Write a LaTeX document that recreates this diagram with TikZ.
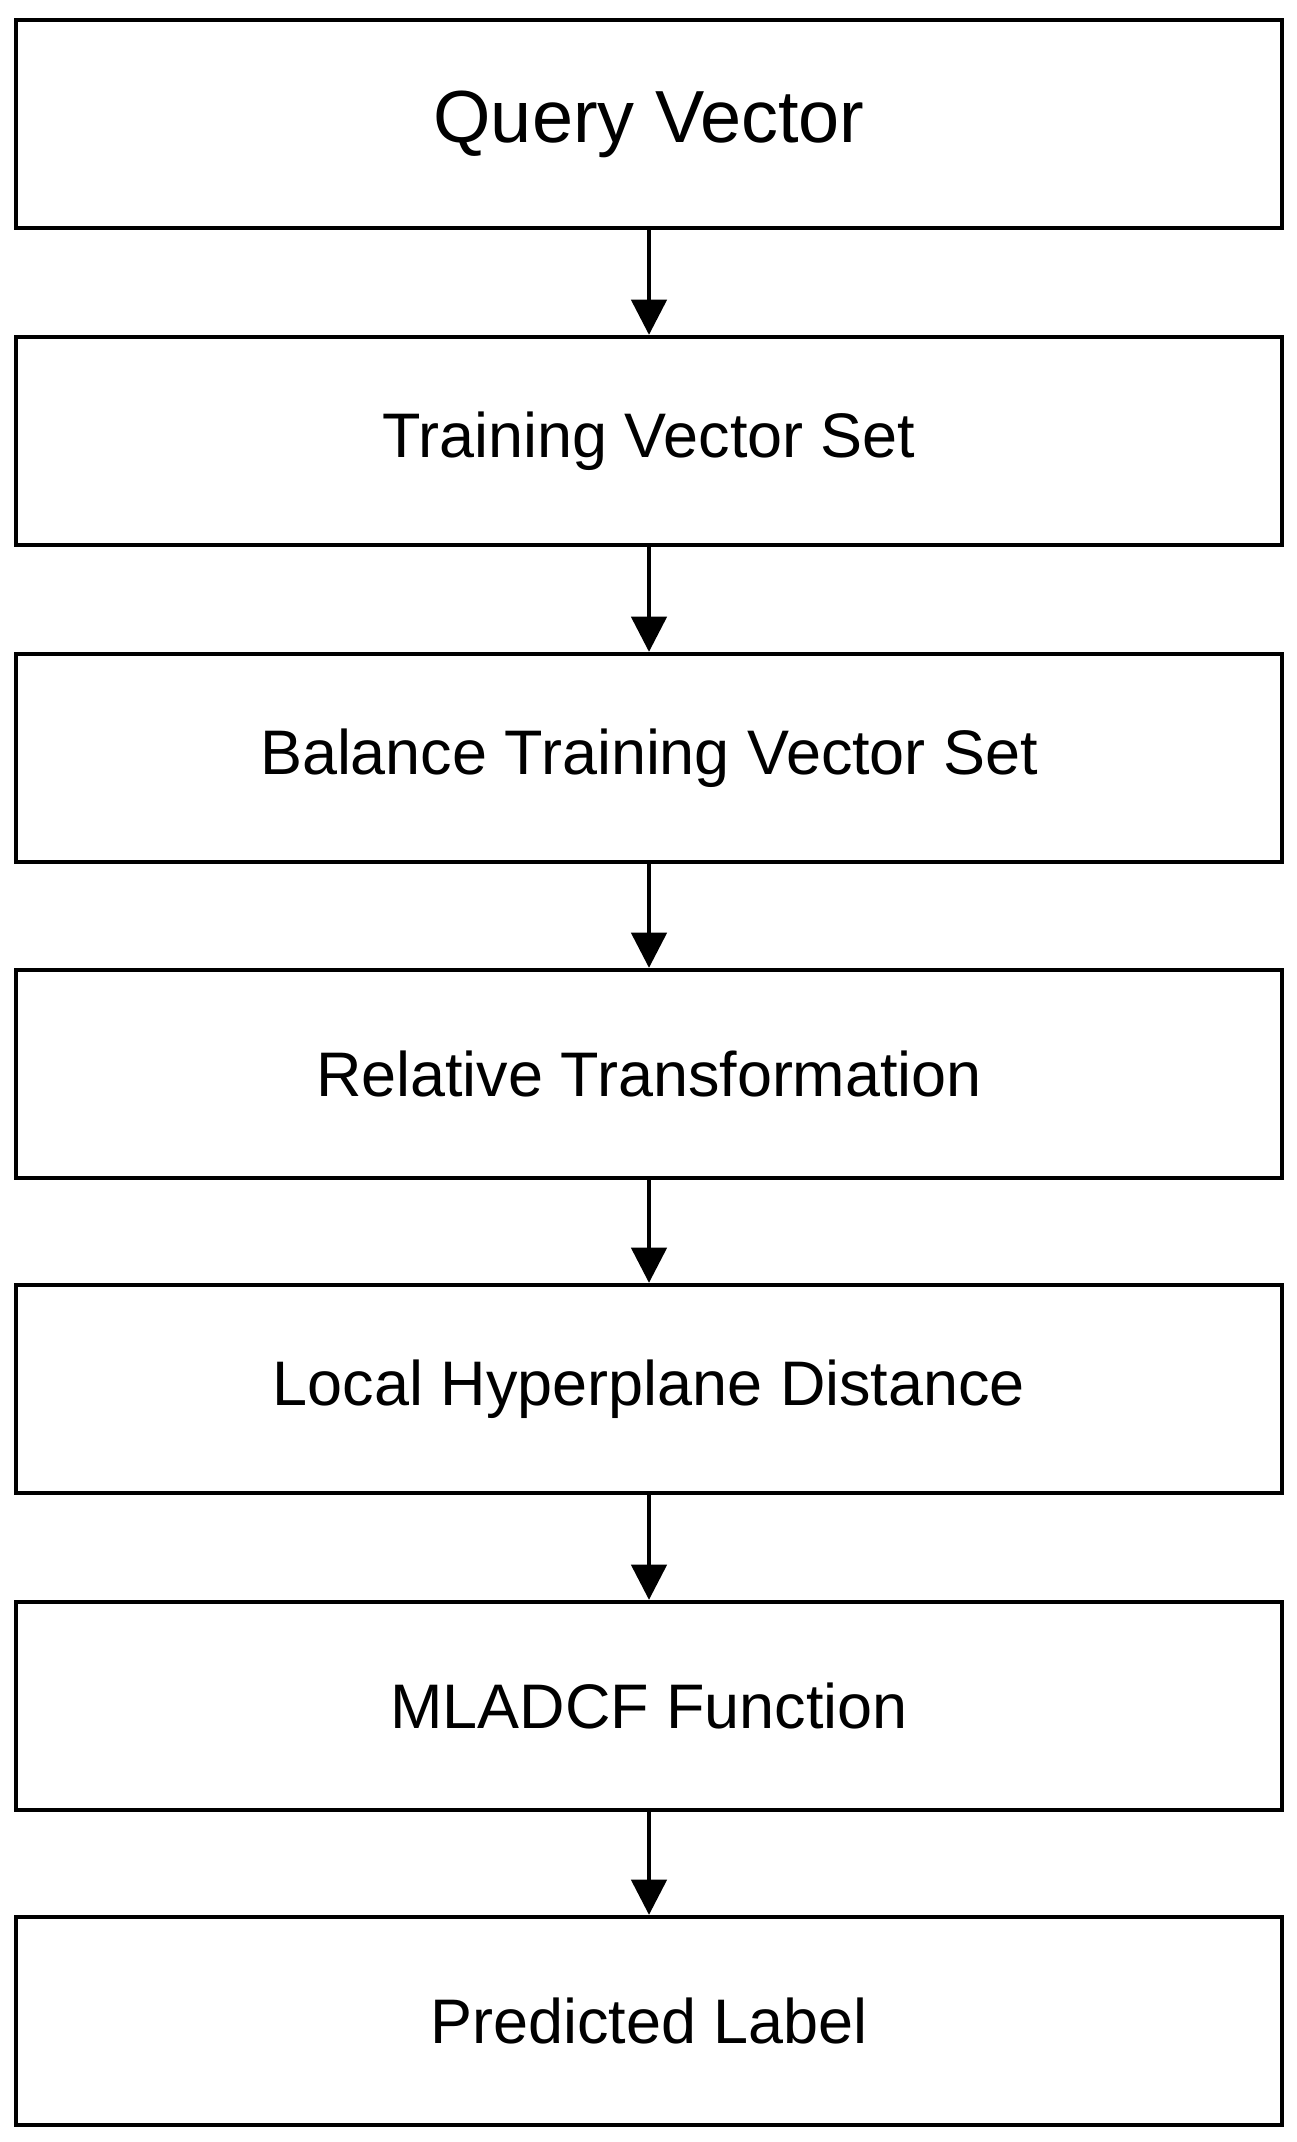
\documentclass[tikz,border=0pt]{standalone}
\usepackage{fontspec}
\setmainfont{Liberation Sans}
\usetikzlibrary{arrows.meta}
\begin{document}
\begin{tikzpicture}[x=0.01cm,y=-0.01cm,
  box/.style={draw,line width=1.2pt,minimum width=12.66cm,minimum height=2.08cm,inner sep=0pt,font=\fontsize{17.9}{21}\selectfont},
  arr/.style={line width=1.2pt,-{Triangle[length=10pt,width=10pt]}}]
\useasboundingbox (0,0) rectangle (1296,2142);
\node[box,font=\fontsize{21}{25}\selectfont] (a) at (649,124) {Query Vector};
\node[box] (b) at (649,441) {Training Vector Set};
\node[box] (c) at (649,758) {Balance Training Vector Set};
\node[box] (d) at (649,1074) {Relative Transformation};
\node[box] (e) at (649,1389) {Local Hyperplane Distance};
\node[box] (f) at (649,1706) {MLADCF Function};
\node[box] (g) at (649,2021) {Predicted Label};
\foreach \s/\t in {a/b,b/c,c/d,d/e,e/f,f/g}\draw[arr] (\s) -- (\t);
\end{tikzpicture}
\end{document}
